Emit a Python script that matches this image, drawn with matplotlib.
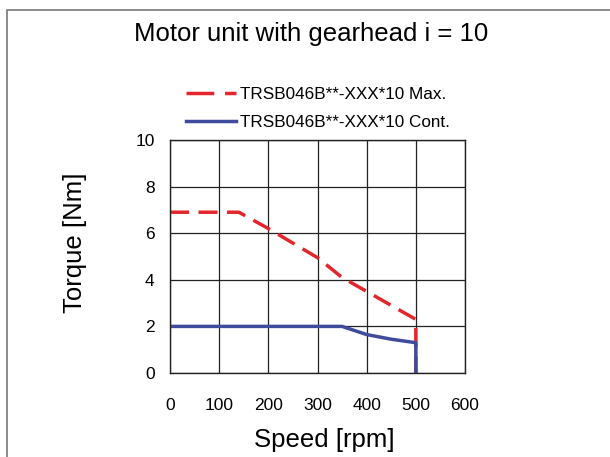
import matplotlib
matplotlib.use('Agg')
import matplotlib.pyplot as plt
from matplotlib.patches import Rectangle
from matplotlib.lines import Line2D

plt.rcParams['font.family'] = ['Liberation Sans', 'DejaVu Sans']

# curve data
max_speed = [0, 140, 200, 300, 350, 400, 500, 500]
max_torque = [6.9, 6.9, 6.2, 4.95, 4.1, 3.5, 2.3, 0]
cont_speed = [0, 350, 400, 450, 500, 500]
cont_torque = [2.0, 2.0, 1.65, 1.45, 1.3, 0]
xticks = [0, 100, 200, 300, 400, 500, 600]
yticks = [0, 2, 4, 6, 8, 10]
labels = ['TRSB046B**-XXX*10 Max.', 'TRSB046B**-XXX*10 Cont.']

red = '#e3262b'
blue = '#3f4b9c'

fig = plt.figure(figsize=(6.1, 4.57), dpi=100)
fig.patches.append(Rectangle((7/610, -0.1), 1.2, 1 - 10/457 + 0.1, transform=fig.transFigure,
                             fill=False, edgecolor='#777777', linewidth=1.2))
fig.text(311/610, 1 - 34/457, 'Motor unit with gearhead i = 10', ha='center', va='center', fontsize=18.5)

ax = fig.add_axes([170/610, 1 - 373/457, 295/610, 233/457])
ax.plot(max_speed, max_torque, color=red, lw=2.5, dashes=(5.5, 2.7))
ax.plot(cont_speed, cont_torque, color=blue, lw=2.5)
ax.set_xlim(0, 600)
ax.set_ylim(0, 10)
ax.set_xticks(xticks)
ax.set_yticks(yticks)
ax.grid(True, color='#222222', lw=0.9)
ax.set_axisbelow(True)
ax.tick_params(length=0, labelsize=12.5)
ax.tick_params(axis='x', pad=18)
ax.tick_params(axis='y', pad=11)
for s in ax.spines.values():
    s.set_linewidth(1.0)
    s.set_color('#222222')
ax.set_xlabel('Speed [rpm]', fontsize=18.5, va='center')
ax.set_ylabel('Torque [Nm]', fontsize=18.5, va='center')
ax.xaxis.set_label_coords((324 - 170) / 295, (373 - 440) / 233)
ax.yaxis.set_label_coords((75 - 170) / 295, (373 - 243) / 233)

# legend handles drawn separately so the red one shows the long/short dash look
handles = [Line2D([], [], color=red, lw=2.5, dashes=(8, 3.1)),
           Line2D([], [], color=blue, lw=2.5)]
ax.legend(handles, labels, loc='lower left', bbox_to_anchor=(9/295, 1.013), frameon=False,
          fontsize=12.3, handlelength=2.95, handletextpad=0.2, labelspacing=0.77, borderaxespad=0)

fig.savefig('out.png', dpi=100)
